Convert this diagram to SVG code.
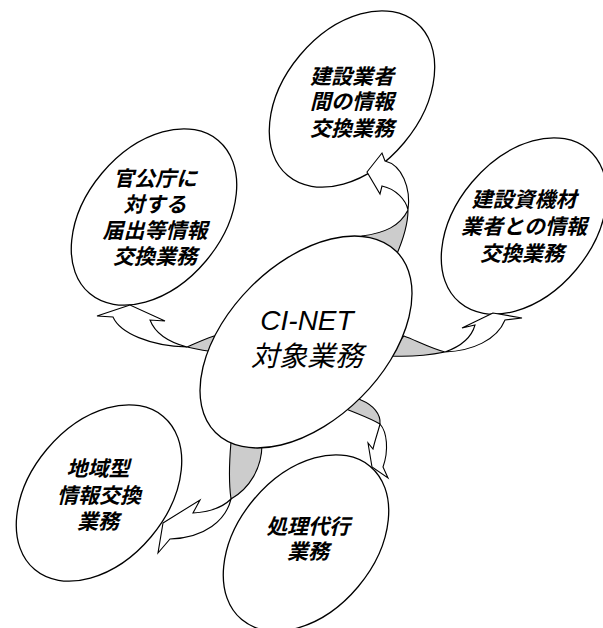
<svg xmlns="http://www.w3.org/2000/svg" width="603" height="628" viewBox="0 0 603 628">
<style>
.node ellipse{fill:#fff;stroke:#000;stroke-width:1.3}
.lbl{font-family:"Liberation Sans","Noto Sans CJK JP",sans-serif;font-size:21px;font-weight:bold;font-style:italic;text-anchor:middle;fill:#000}
.main{font-family:"Liberation Sans","Noto Sans CJK JP",sans-serif;font-size:28px;font-style:italic;text-anchor:middle;fill:#000}
.body{fill:#fff;stroke:#000;stroke-width:1.1;stroke-linejoin:miter}
.back{fill:#cccccc;stroke:#000;stroke-width:1.1}
</style>
<rect width="603" height="628" fill="#fff"/>
<g id="n-top" class="node">
<ellipse cx="0" cy="0" rx="68" ry="100" transform="translate(352,99) rotate(40)"/>
<text class="lbl" x="352" y="84">建設業者</text>
<text class="lbl" x="352" y="109">間の情報</text>
<text class="lbl" x="352" y="136">交換業務</text>
</g>
<g id="n-left" class="node">
<ellipse cx="0" cy="0" rx="68" ry="100" transform="translate(154,217) rotate(40)"/>
<text class="lbl" x="155" y="186">官公庁に</text>
<text class="lbl" x="155" y="212">対する</text>
<text class="lbl" x="155" y="238">届出等情報</text>
<text class="lbl" x="155" y="264">交換業務</text>
</g>
<g id="n-right" class="node">
<ellipse cx="0" cy="0" rx="68" ry="100" transform="translate(524,226) rotate(40)"/>
<text class="lbl" x="524" y="207">建設資機材</text>
<text class="lbl" x="524" y="234">業者との情報</text>
<text class="lbl" x="522" y="261">交換業務</text>
</g>
<g id="n-bl" class="node">
<ellipse cx="0" cy="0" rx="68" ry="100" transform="translate(99,493) rotate(40)"/>
<text class="lbl" x="98" y="476">地域型</text>
<text class="lbl" x="99" y="503">情報交換</text>
<text class="lbl" x="98" y="529">業務</text>
</g>
<g id="n-br" class="node">
<ellipse cx="0" cy="0" rx="68" ry="100" transform="translate(306,543) rotate(40)"/>
<text class="lbl" x="308" y="534">処理代行</text>
<text class="lbl" x="308" y="559">業務</text>
</g>
<g id="connectors">
<path class="back" d="M408,210 C408,226 403,240 396,256 L360,250 L362,236 C385,233 400,226 408,210 Z"/>
<path class="body" d="M367,172 L382,153 L385,161 C402,165 411,188 408,210 C406,200 396,189 382,186 L380,194 Z"/>
<path class="back" d="M187,347 C196,343 205,339 214,336 L222,345 L216,352 C206,351 196,349 187,347 Z"/>
<path class="body" d="M130,305 L97,316 L113,317 C120,333 150,346 187,347 C168,342 155,333 150,320 L165,321 Z"/>
<path class="back" d="M445,352 C430,348 415,340 404,336 L396,345 L390,356 C410,357 430,355 445,352 Z"/>
<path class="body" d="M493,313 L462,328 L475,325 C472,336 462,346 445,352 C472,351 497,340 505,320 L522,318 Z"/>
<path class="back" d="M380,424 C381,414 373,405 361,400 L350,395 L344,408 C358,414 370,418 380,424 Z"/>
<path class="body" d="M372,467 L368,443 L373,449 C375,440 378,432 380,424 C387,432 389,450 383,467 L388,478 Z"/>
<path class="back" d="M231,499 C229,485 229,465 231,442 L245,440 L262,444 C262,468 250,488 231,499 Z"/>
<path class="body" d="M163,523 L200,500 L193,513 C210,512 222,508 231,499 C226,520 205,538 170,539 L158,553 Z"/>
</g>
<g id="n-center" class="node">
<ellipse cx="0" cy="0" rx="78" ry="128" transform="translate(306,342) rotate(45)"/>
<text class="main" x="307" y="330">CI-NET</text>
<text class="main" x="307" y="366">対象業務</text>
</g>
</svg>
